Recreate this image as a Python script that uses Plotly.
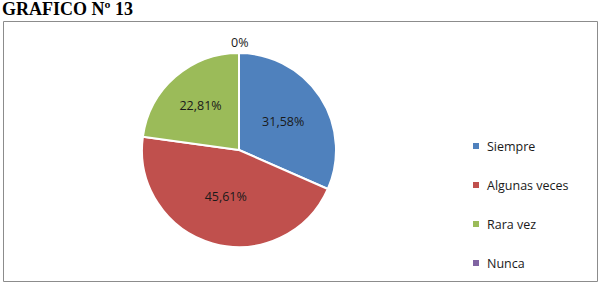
import math
import plotly.graph_objects as go

categories = ["Siempre", "Algunas veces", "Rara vez", "Nunca"]
values = [31.58, 45.61, 22.81, 0]
colors = ["#4F81BD", "#C0504D", "#9BBB59", "#8064A2"]
title_text = "GRAFICO Nº 13"

W, H = 601, 286

def fmt(v):
    if v == 0:
        return "0%"
    return f"{v:.2f}%".replace(".", ",")

labels_txt = [fmt(v) for v in values]
inside_txt = [t if v > 0 else "" for t, v in zip(labels_txt, values)]

# pie geometry (pixels)
cx, cy, R = 239, 150, 97

fig = go.Figure()
fig.add_trace(go.Pie(
    labels=categories, values=values, text=inside_txt,
    textinfo="text", sort=False, direction="clockwise", rotation=0,
    marker=dict(colors=colors, line=dict(color="white", width=2)),
    textposition="inside",
    insidetextorientation="horizontal",
    textfont=dict(family="Open Sans", size=12.5, color="#1a1a1a"),
    domain=dict(x=[(cx - R) / W, (cx + R) / W], y=[1 - (cy + R) / H, 1 - (cy - R) / H]),
    showlegend=False, hoverinfo="label+percent",
))

# outside labels for zero-valued slices, placed at their angle
total = sum(values)
cum = 0.0
for v, t in zip(values, labels_txt):
    if v == 0:
        ang = 2 * math.pi * (cum / total)
        rr = R * 1.11
        px = cx + rr * math.sin(ang)
        py = cy - rr * math.cos(ang)
        fig.add_annotation(text=t, xref="paper", yref="paper",
                           x=px / W, y=1 - py / H, xanchor="center", yanchor="middle",
                           showarrow=False,
                           font=dict(family="Open Sans", size=12.5, color="#1a1a1a"))
    cum += v

# border box
fig.add_shape(type="rect", xref="paper", yref="paper",
              x0=3.5 / W, x1=597.5 / W, y0=1 - 281.5 / H, y1=1 - 21.5 / H,
              line=dict(color="#8c8c8c", width=1), fillcolor="rgba(0,0,0,0)")

# title
fig.add_annotation(text="<b>" + title_text + "</b>", xref="paper", yref="paper",
                   x=0, y=1 + 3 / H, xanchor="left", yanchor="top", showarrow=False,
                   font=dict(family="Liberation Serif", size=18, color="black"))

# manual legend
leg_x = 476
leg_y0 = 146
leg_dy = 39
for i, (c, col) in enumerate(zip(categories, colors)):
    yc = leg_y0 + i * leg_dy
    fig.add_shape(type="rect", xref="paper", yref="paper",
                  x0=(leg_x - 3) / W, x1=(leg_x + 3) / W,
                  y0=1 - (yc + 3) / H, y1=1 - (yc - 3) / H,
                  fillcolor=col, line=dict(width=0))
    fig.add_annotation(text=c, xref="paper", yref="paper",
                       x=(leg_x + 9) / W, y=1 - yc / H, xanchor="left", yanchor="middle",
                       showarrow=False,
                       font=dict(family="Open Sans", size=12.5, color="#1a1a1a"))

fig.update_layout(width=W, height=H, margin=dict(l=0, r=0, t=0, b=0),
                  paper_bgcolor="white", plot_bgcolor="white")

fig.write_html("out.html")
